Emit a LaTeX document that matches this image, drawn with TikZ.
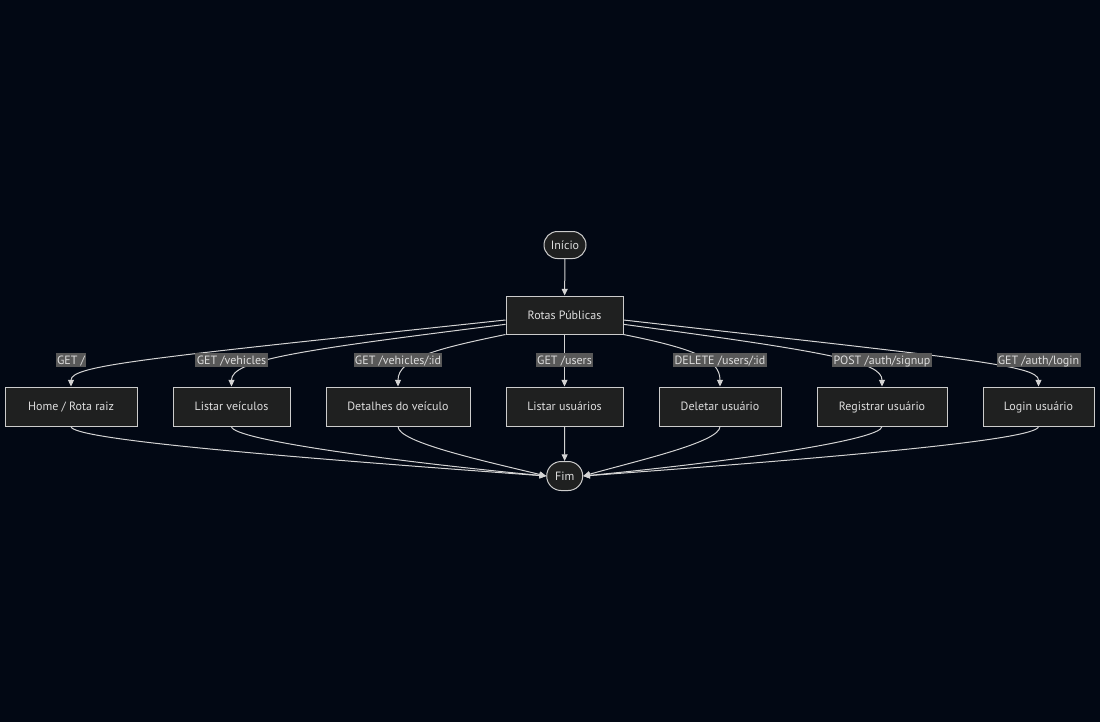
\documentclass[tikz,border=0pt]{standalone}
\usepackage{fontspec}
\setmainfont{PT Sans}
\usetikzlibrary{arrows.meta,shapes.misc}
\definecolor{bg}{HTML}{020814}
\definecolor{nodefill}{HTML}{1F2020}
\definecolor{nodeline}{HTML}{CCCCCC}
\definecolor{edgeline}{HTML}{D3D3D3}
\definecolor{lblfill}{HTML}{585858}
\definecolor{txt}{HTML}{DDDDDD}
\tikzset{
  box/.style={rectangle, draw=nodeline, fill=nodefill, text=txt, line width=0.75pt,
    minimum height=29.25pt, inner sep=0pt, text height=7.7pt, text depth=1.5pt,
    font=\fontsize{9}{11}\selectfont},
  term/.style={box, rounded rectangle, minimum height=20.25pt},
  route/.style={fill=lblfill, text=txt, inner xsep=1pt, inner ysep=0.65pt,
    text height=7.7pt, text depth=1.5pt, font=\fontsize{9}{11}\selectfont},
  flow/.style={draw=edgeline, line width=0.75pt, -{Triangle[length=5pt,width=4.5pt]}},
}
\begin{document}
\begin{tikzpicture}[x=0.75pt, y=-0.75pt]
    % page
    \fill[bg] (0,0) rectangle (1100,722);
    \useasboundingbox (0,0) rectangle (1100,722);

    % nodes
    \node[term, minimum width=31.5pt] (start) at (565,245) {Início};
    \node[box, minimum width=87.75pt, minimum height=28.5pt] (rp) at (564.5,315) {Rotas Públicas};
    \node[box, minimum width=99pt] (home) at (71,406.5) {Home / Rota raiz};
    \node[box, minimum width=87.75pt] (lv) at (231.5,406.5) {Listar veículos};
    \node[box, minimum width=108pt] (dv) at (398,406.5) {Detalhes do veículo};
    \node[box, minimum width=87.75pt] (lu) at (564.5,406.5) {Listar usuários};
    \node[box, minimum width=91.5pt] (du) at (720,406.5) {Deletar usuário};
    \node[box, minimum width=97.5pt] (ru) at (882,406.5) {Registrar usuário};
    \node[box, minimum width=83.25pt] (login) at (1038.5,406.5) {Login usuário};
    \node[term, minimum width=27pt, minimum height=21.75pt] (fim) at (564.7,476) {Fim};

    % top edges
    \draw[flow] (start) -- (rp);
    \draw[flow] ([yshift=-3.75pt]rp.west) .. controls (150,358) and (71,365) .. (home.north);
    \draw[flow] ([yshift=-7pt]rp.west) .. controls (300,350) and (231.5,360) .. (lv.north);
    \draw[flow] (rp.south west) .. controls (440,348) and (398,358) .. (dv.north);
    \draw[flow] (rp) -- (lu);
    \draw[flow] (rp.south east) .. controls (690,348) and (720,358) .. (du.north);
    \draw[flow] ([yshift=-7pt]rp.east) .. controls (830,352) and (882,362) .. (ru.north);
    \draw[flow] ([yshift=-3.75pt]rp.east) .. controls (960,358) and (1038.5,365) .. (login.north);

    % bottom edges
    \draw[flow] (home.south) .. controls (71,440) and (300,458) .. (fim.west);
    \draw[flow] (lv.south) .. controls (231.5,440) and (400,462) .. (fim.west);
    \draw[flow] (dv.south) .. controls (398,442) and (480,460) .. (fim.west);
    \draw[flow] (lu) -- (fim);
    \draw[flow] (du.south) .. controls (720,442) and (640,460) .. (fim.east);
    \draw[flow] (ru.south) .. controls (882,440) and (730,462) .. (fim.east);
    \draw[flow] (login.south) .. controls (1038.5,440) and (830,458) .. (fim.east);

    % add labels
    \node[route] (l-home) at (71,360) {GET /};
    \node[route] (l-lv) at (231.5,360) {GET /vehicles};
    \node[route] (l-dv) at (398,360) {GET /vehicles/:id};
    \node[route] (l-lu) at (564.5,360) {GET /users};
    \node[route] (l-du) at (720,360) {DELETE /users/:id};
    \node[route] (l-ru) at (882,360) {POST /auth/signup};
    \node[route] (l-login) at (1038.5,360) {GET /auth/login};
\end{tikzpicture}
\end{document}
